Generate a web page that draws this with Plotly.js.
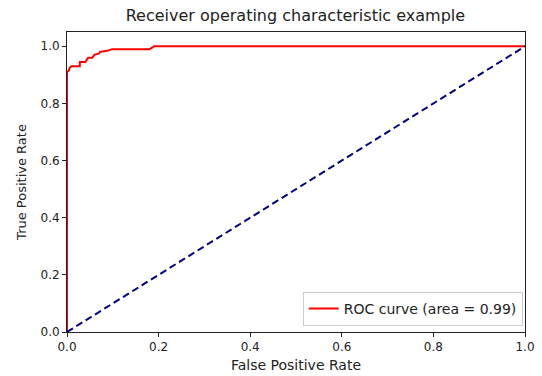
<!DOCTYPE html>
<html>
<head>
<meta charset="utf-8">
<script src="https://cdn.plot.ly/plotly-3.0.1.min.js"></script>
<style>html,body{margin:0;padding:0;background:#fff;}#chart{width:542px;height:376px;}</style>
</head>
<body>
<div id="chart"></div>
<script>
var fpr = [0, 0, 0.004, 0.006, 0.01, 0.028, 0.028, 0.04, 0.046, 0.055, 0.06, 0.07, 0.072, 0.09, 0.098, 0.18, 0.186, 0.19, 1.0];
var tpr = [0, 0.91, 0.915, 0.925, 0.93, 0.93, 0.945, 0.945, 0.96, 0.96, 0.97, 0.975, 0.98, 0.985, 0.99, 0.99, 0.995, 1.0, 1.0];
var diagX = [0, 1];
var diagY = [0, 1];
var rocLabel = 'ROC curve (area = 0.99)';
var tickVals = [0, 0.2, 0.4, 0.6, 0.8, 1.0];
var tickText = ['0.0', '0.2', '0.4', '0.6', '0.8', '1.0'];

var font = 'DejaVu Sans, sans-serif';
var traces = [
  {x: fpr, y: tpr, mode: 'lines', name: rocLabel, line: {color: 'red', width: 2, shape: 'linear'}},
  {x: diagX, y: diagY, mode: 'lines', showlegend: false, line: {color: 'navy', width: 2, dash: '7px,4px'}}
];
var axisCommon = {
  showline: true, mirror: true, linecolor: '#222', linewidth: 1,
  ticks: 'outside', ticklen: 4, tickcolor: '#222', tickwidth: 1,
  showgrid: false, zeroline: false,
  tickfont: {family: font, size: 12, color: '#222'},
  tickvals: tickVals, ticktext: tickText
};
var layout = {
  width: 542, height: 376,
  margin: {l: 67, r: 17, t: 32, b: 44},
  paper_bgcolor: '#fff', plot_bgcolor: '#fff',
  title: {text: 'Receiver operating characteristic example', font: {family: font, size: 16, color: '#222'}, x: 0.545, xanchor: 'center', y: 0.96, yanchor: 'middle'},
  xaxis: Object.assign({}, axisCommon, {range: [0, 1], title: {text: 'False Positive Rate', font: {family: font, size: 14, color: '#222'}, standoff: 6}}),
  yaxis: Object.assign({}, axisCommon, {range: [0, 1.05], title: {text: 'True Positive Rate', font: {family: font, size: 13, color: '#222'}, standoff: 10}}),
  legend: {x: 0.995, y: 0.02, xanchor: 'right', yanchor: 'bottom', bgcolor: '#fff', bordercolor: '#ccc', borderwidth: 1, itemwidth: 30, font: {family: font, size: 14, color: '#222'}},
  showlegend: true
};
Plotly.newPlot('chart', traces, layout, {displayModeBar: false, staticPlot: true});
</script>
</body>
</html>
